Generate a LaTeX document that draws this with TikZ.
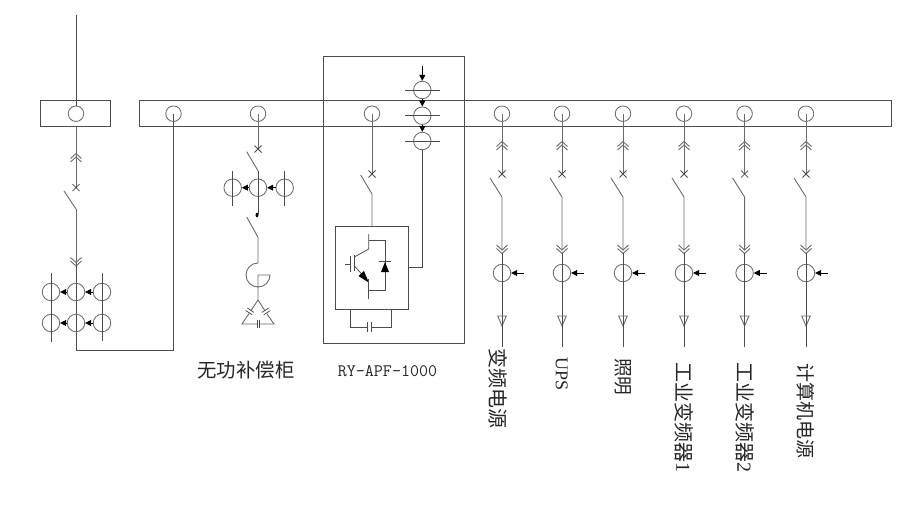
\documentclass[tikz,border=0pt]{standalone}
\usepackage{fontspec}
\setmainfont{Liberation Serif}
\newfontfamily\cjk{Noto Sans CJK SC}
\usetikzlibrary{arrows.meta}
\definecolor{ln}{gray}{0.3}
\definecolor{lnl}{gray}{0.42}
\tikzset{
  wire/.style={draw=ln,line width=0.9pt},
  lwire/.style={draw=lnl,line width=0.9pt},
  thin wire/.style={draw=ln,line width=0.75pt},
  bcirc/.style={circle,draw=lnl,line width=0.85pt,minimum size=15.5pt,inner sep=0pt},
  tcirc/.style={circle,draw=lnl,line width=0.85pt,minimum size=17.5pt,inner sep=0pt},
  busbox/.style={rectangle,draw=ln,line width=0.9pt,inner sep=0pt},
  arr/.style={draw=black,line width=0.8pt,-{Triangle[length=6pt,width=6pt,fill=black]}},
  vlabel/.style={rotate=-90,anchor=west,inner sep=0pt,text=black!85},
  hlabel/.style={inner sep=0pt,text=black!85}
}
\newcommand{\cv}[3]{% x y dir: double chevron
  \draw[lwire] (#1-5.5,#2) -- (#1,#2+#3*5) -- (#1+5.5,#2);
  \draw[lwire] (#1-5.5,#2+#3*3.5) -- (#1,#2+#3*8.5) -- (#1+5.5,#2+#3*3.5);
}
\newcommand{\xm}[2]{%
  \draw[thin wire] (#1-3.5,#2-3.5) -- (#1+3.5,#2+3.5) (#1-3.5,#2+3.5) -- (#1+3.5,#2-3.5);
}
\begin{document}
\begin{tikzpicture}[x=1pt,y=-1pt]
\useasboundingbox (0,0) rectangle (900,511);
\fill[white] (0,0) rectangle (900,511);

% bus bars
\node[busbox,minimum width=70pt,minimum height=26pt] (busL) at (75.7,113.7) {};
\node[busbox,minimum width=752pt,minimum height=26pt] (busM) at (515,113.7) {};

% incoming feeder
\coordinate (top) at (76,15);
\node[bcirc] (cL) at (76,113.7) {};
\draw[wire] (top) -- (cL.north);
\coordinate (xL) at (76,187.7);
\coordinate (bl1) at (64,191);
\coordinate (bl2) at (76,209);
\coordinate (corner1) at (76,350);
\node[bcirc] (cT) at (173.5,113.7) {};
\coordinate (corner2) at (173.5,350);
\draw[lwire] (busL.south -| cL) -- (xL);
\draw[lwire] (bl1) -- (bl2);
\draw[lwire] (bl2) -- (76,262);
\draw[wire] (76,262) -- (corner1) -- (corner2) -- (cT.center);
\cv{76}{162}{-1}
\cv{76}{257.5}{1}
\xm{76}{187.7}

% CT block
\foreach \n/\y in {u/292,v/323}{
  \node[tcirc] (l\n) at (51,\y) {};
  \node[tcirc] (m\n) at (76,\y) {};
  \node[tcirc] (r\n) at (102,\y) {};
  \draw[arr] (m\n.west) -- (l\n.east);
  \draw[arr] (r\n.west) -- (m\n.east);
}
\coordinate (lt) at (51,273); \coordinate (lb) at (51,342);
\coordinate (rt) at (102,273); \coordinate (rb) at (102,341);
\draw[wire] (lt) -- (lb);
\draw[wire] (rt) -- (rb);

% compensation branch
\node[bcirc] (cC) at (258,113.7) {};
\coordinate (xC) at (258,149);
\draw[lwire] (cC.center) -- (xC);
\xm{258}{149}
\draw[lwire] (246.7,151.7) -- (258,170.7);
\node[tcirc] (c2) at (258,187.7) {};
\node[tcirc] (c1) at (232.7,187.7) {};
\node[tcirc] (c3) at (284.7,187.7) {};
\draw[arr] (c2.west) -- (c1.east);
\draw[arr] (c3.west) -- (c2.east);
\draw[wire] (232.7,170.7) -- (232.7,206);
\draw[wire] (284.7,170.7) -- (284.7,206);
\draw[wire] (258,170.7) -- (258,214);
\fill[black] (257,215) ellipse (1.5 and 2.3);
\draw[lwire] (246.7,217) -- (258,237.3) -- (258,263);
\draw[lwire] (258,263) arc[start angle=-90,end angle=-360,radius=12] -- (258,275) -- (258,300);
\draw[lwire] (258,300) -- (250.8,310.8) (249,313.5) -- (242,324) -- (257,324) (259.5,324) -- (274,324) -- (266.7,313.5) (265,310.8) -- (258,300);
\draw[thin wire] (245.7,310.5) -- (252.3,314.9) (247.4,308) -- (254,312.4);
\draw[thin wire] (270.3,310.5) -- (263.7,314.9) (268.6,308) -- (262,312.4);
\draw[thin wire] (257,320) -- (257,328) (259.5,320) -- (259.5,328);

% APF
\node[busbox,minimum width=141pt,minimum height=287pt] (apf) at (393.5,199.5) {};
\node[bcirc] (cA) at (372,113.7) {};
\coordinate (xA) at (372,174);
\draw[lwire] (cA.center) -- (xA);
\xm{372}{174}
\draw[lwire] (360.7,175) -- (372,194) -- (372,226.7);
\node[busbox,minimum width=73.4pt,minimum height=82.3pt] (inv) at (372,267.8) {};
\foreach \n/\y in {a/90,b/115.7,c/141}{
  \node[tcirc] (s\n) at (422.3,\y) {};
  \draw[wire] (405,\y) -- (440,\y);
}
\coordinate (arrtop) at (422.3,66);
\draw[arr] (arrtop) -- (sa.north);
\draw[arr] (sa.south) -- (sb.north);
\draw[arr] (sb.south) -- (sc.north);
\coordinate (fb) at (422.3,267.7);
\draw[wire] (sc.south) -- (fb) -- (inv.east |- fb);

% IGBT
\draw[thin wire] (368.7,234) -- (368.7,249) -- (354.3,257);
\draw[thin wire] (354.3,255) -- (354.3,271);
\draw[thin wire] (350,256) -- (350,272);
\draw[thin wire] (345,264) -- (350,264);
\draw[thin wire] (354.3,266) -- (368.7,281.5);
\fill[black] (368.7,282.5) -- (358.5,276) -- (364,271) -- cycle;
\draw[thin wire] (368.7,279) -- (368.7,299);
\draw[thin wire] (368.7,240) -- (385,240) -- (385,290) -- (368.7,290);
\fill[black] (385,262) -- (381,272) -- (389,272) -- cycle;
\draw[thin wire] (379,261) -- (391,261);

% dc capacitor
\coordinate (d1) at (350.3,309); \coordinate (d2) at (391.7,309);
\draw[wire] (d1) -- (350.3,327.3) -- (367,327.3) (371.5,327.3) -- (391.7,327.3) -- (d2);
\draw[wire] (367,322) -- (367,332) (371.5,322) -- (371.5,332);

% outgoing feeders
\foreach \n/\x in {a/502,b/562,c/623,d/684,e/744.6,f/806}{
  \node[bcirc] (o\n) at (\x,113.7) {};
  \node[tcirc] (t\n) at (\x,273) {};
  \coordinate (ox\n) at (\x,174);
  \coordinate (ob\n) at (\x,197);
  \coordinate (oe\n) at (\x,347);
  \coordinate (oa\n) at (\x+22,273);
  \draw[lwire] (o\n.center) -- (ox\n);
  \xm{\x}{174}
  \cv{\x}{150}{-1}
  \draw[lwire] (\x-12,178) -- (ob\n) -- (\x,250);
  \cv{\x}{245}{1}
  \draw[wire] (\x,253) -- (oe\n);
  \draw[arr] (oa\n) -- (t\n.east);
  \draw[lwire,fill=white] (\x-4.3,316) -- (\x+4.3,316) -- (\x,326) -- cycle;
  \draw[wire] (\x,316) -- (\x,326);
}

% labels
\node[hlabel,font=\cjk\fontsize{19.4}{20}\selectfont] (t1) at (246,370.5) {无功补偿柜};
\node[hlabel,font=\ttfamily\fontsize{17.5}{20}\selectfont] (t2) at (387.5,371) {RY-APF-1000};
\node[vlabel,font=\cjk\fontsize{20}{20}\selectfont] (la) at (498,348) {变频电源};
\node[vlabel,font=\fontsize{18}{20}\selectfont] (lb2) at (561.7,357) {UPS};
\node[vlabel,font=\cjk\fontsize{18.7}{20}\selectfont] (lc) at (622.7,358) {照明};
\node[vlabel,font=\cjk\fontsize{20}{20}\selectfont] (ld) at (684,362) {工业变频器{\fontspec{Liberation Serif}1}};
\node[vlabel,font=\cjk\fontsize{20}{20}\selectfont] (le) at (745,362) {工业变频器{\fontspec{Liberation Serif}2}};
\node[vlabel,font=\cjk\fontsize{19}{20}\selectfont] (lf) at (805.5,363) {计算机电源};
\end{tikzpicture}
\end{document}
